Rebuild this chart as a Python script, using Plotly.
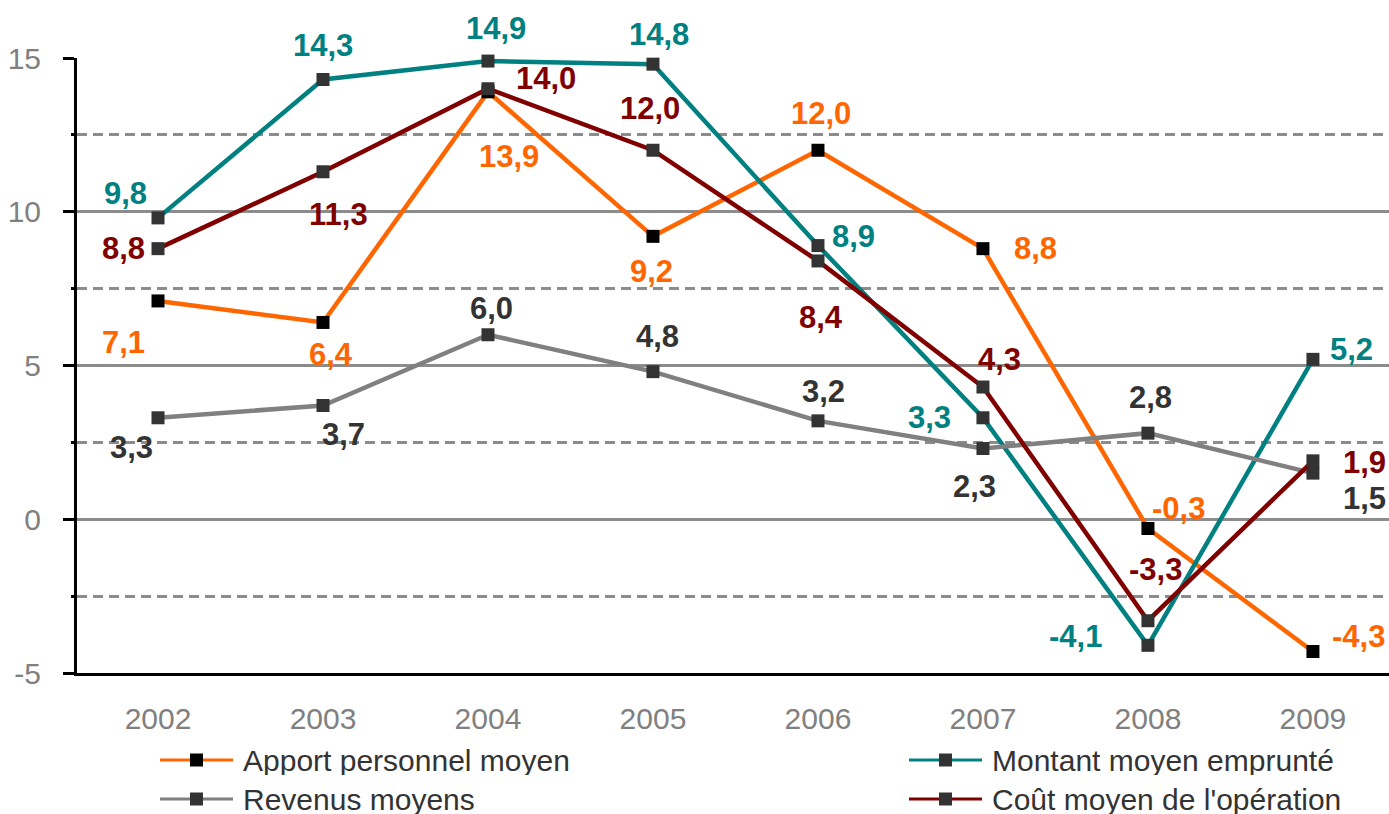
import plotly.graph_objects as go

years = ["2002", "2003", "2004", "2005", "2006", "2007", "2008", "2009"]

apport = [7.1, 6.4, 13.9, 9.2, 12.0, 8.8, -0.3, -4.3]
montant = [9.8, 14.3, 14.9, 14.8, 8.9, 3.3, -4.1, 5.2]
revenus = [3.3, 3.7, 6.0, 4.8, 3.2, 2.3, 2.8, 1.5]
cout = [8.8, 11.3, 14.0, 12.0, 8.4, 4.3, -3.3, 1.9]

names = ["Apport personnel moyen", "Montant moyen emprunté",
         "Revenus moyens", "Coût moyen de l'opération"]

y_ticks = [-5, 0, 5, 10, 15]
y_ticktext = ["-5", "0", "5", "10", "15"]

# label offsets in px (dx right, dy up) for each point
off_apport = [(-35, -42), (8, -32), (21, -65), (-1, -35), (3, 37), (53, 0), (31, 20), (46, 15)]
off_montant = [(-33, 24), (0, 34), (8, 33), (6, 30), (36, 9), (-53, 0), (-72, 9), (39, 10)]
off_revenus = [(-27, -30), (20, -29), (4, 26), (5, 35), (6, 29), (-8, -38), (3, 36), (52, -25)]
off_cout = [(-35, 0), (15, -43), (58, 10), (-3, 42), (3, -57), (17, 28), (8, 51), (52, -2)]

W, H = 1389, 814
L, R, T, B = 77, 0, 58, 141
FONT = "Liberation Sans, Arial, sans-serif"

series = [
    (names[0], apport, "#FF6600", "#000000", "#FF6600", off_apport),
    (names[1], montant, "#008080", "#333333", "#008080", off_montant),
    (names[2], revenus, "#808080", "#333333", "#333333", off_revenus),
    (names[3], cout, "#800000", "#333333", "#800000", off_cout),
]

fig = go.Figure()
annotations = []
for name, vals, lc, mc, tc, offs in series:
    fig.add_trace(go.Scatter(
        x=years, y=vals, name=name, mode="lines+markers",
        line=dict(color=lc, width=4.5),
        marker=dict(symbol="square", size=13, color=mc),
        cliponaxis=False, showlegend=False))
    for i, (v, (dx, dy)) in enumerate(zip(vals, offs)):
        annotations.append(dict(
            x=i, y=v, xref="x", yref="y", showarrow=False,
            text="<b>" + ("%.1f" % v).replace(".", ",") + "</b>",
            font=dict(family=FONT, size=31, color=tc),
            xshift=dx, yshift=dy))

# legend drawn by hand (longer line samples than plotly's legend)
pw, ph = W - L - R, H - T - B
def px(x):
    return (x - L) / pw
def py(y):
    return (H - B - y) / ph

shapes = []
legend_pos = [(160, 760), (909, 760), (160, 799), (909, 799)]
for (name, vals, lc, mc, tc, offs), (lx, ly) in zip(series, legend_pos):
    shapes.append(dict(type="line", xref="paper", yref="paper",
                       x0=px(lx), x1=px(lx + 73), y0=py(ly), y1=py(ly),
                       line=dict(color=lc, width=3)))
    shapes.append(dict(type="rect", xref="paper", yref="paper",
                       x0=px(lx + 30), x1=px(lx + 43), y0=py(ly - 6.5), y1=py(ly + 6.5),
                       fillcolor=mc, line=dict(width=0)))
    annotations.append(dict(x=px(lx + 81), y=py(ly), xref="paper", yref="paper",
                            xanchor="left", yanchor="middle", showarrow=False,
                            height=30, valign="middle",
                            text=name, font=dict(family=FONT, size=30, color="#333333")))

fig.update_layout(
    width=W, height=H,
    margin=dict(l=L, r=R, t=T, b=B),
    plot_bgcolor="white", paper_bgcolor="white",
    font=dict(family=FONT),
    showlegend=False,
    annotations=annotations,
    shapes=shapes,
    xaxis=dict(
        type="category", range=[-0.491, 7.461],
        showgrid=False, zeroline=False,
        showline=True, linecolor="black", linewidth=3,
        ticks="", ticklabelstandoff=17,
        tickfont=dict(family=FONT, size=30, color="#808080")),
    yaxis=dict(
        range=[-5, 15], tickvals=y_ticks, ticktext=y_ticktext,
        showgrid=True, gridcolor="#8C8C8C", gridwidth=2.5,
        zeroline=False,
        showline=True, linecolor="black", linewidth=3,
        ticks="outside", ticklen=11, tickwidth=3, tickcolor="black",
        ticklabelstandoff=16,
        tickfont=dict(family=FONT, size=30, color="#808080"),
        minor=dict(tickvals=[-2.5, 2.5, 7.5, 12.5], showgrid=True,
                   gridcolor="#8C8C8C", gridwidth=2.5, griddash="10px,6px",
                   ticks="outside", ticklen=3, tickwidth=3, tickcolor="black")),
)

fig.write_html("out.html", config={"displayModeBar": False},
               post_script="document.body.style.margin='0';")
